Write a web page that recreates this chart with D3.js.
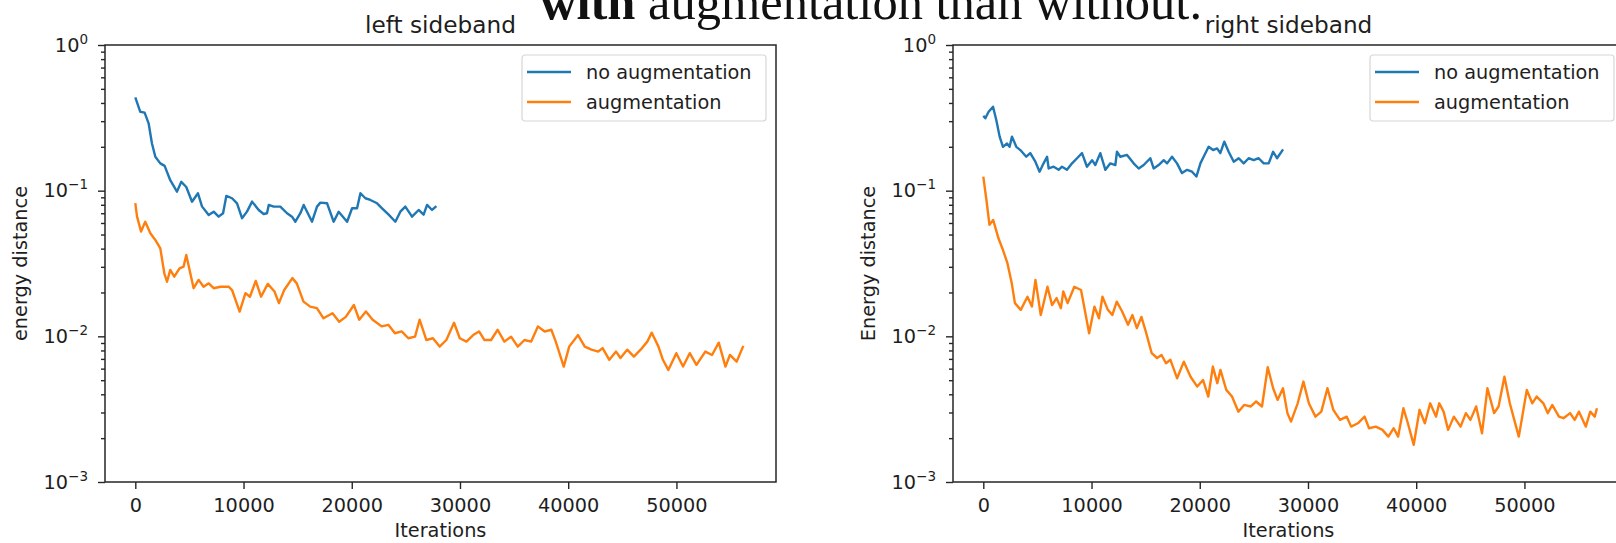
<!DOCTYPE html>
<html>
<head>
<meta charset="utf-8">
<script src="https://cdn.jsdelivr.net/npm/d3@7"></script>
<style>
  body { margin: 0; background: #fff; }
  svg text { font-family: "DejaVu Sans", sans-serif; fill: #1e1e1e; }
</style>
</head>
<body>
<svg id="chart" width="1616" height="543"></svg>
<script>
// values: [iteration, energy distance]
var leftNoAug = [[0,.437],[460,.348],[860,.343],[1230,.290],[1540,.211],[1850,.171],[2310,.154],[2710,.148],
  [3230,.118],[3850,.0985],[4250,.115],[4710,.106],[5240,.084],[5790,.096],[6160,.078],[6780,.068],[7240,.0717],
  [7700,.0663],[8110,.070],[8410,.092],[8940,.0887],[9400,.0819],[9860,.0647],[10320,.0718],[10790,.0841],
  [11400,.0737],[11860,.0692],[12170,.070],[12330,.0798],[12790,.0777],[13400,.0777],[14020,.070],[14480,.0663],
  [14790,.0612],[15250,.070],[15560,.0798],[15870,.0717],[16330,.0612],[16790,.0777],[17100,.0828],[17720,.0819],
  [18330,.0612],[18790,.0717],[19570,.0612],[20030,.0757],[20490,.0757],[20800,.096],[21260,.0887],[21720,.0863],
  [22340,.0819],[22800,.0757],[23410,.0684],[24030,.0612],[24490,.0717],[24950,.0777],[25570,.0663],[26180,.0737],
  [26640,.0684],[26960,.0798],[27420,.0737],[27820,.0784]];

var leftAug = [[0,.082],[160,.0663],[530,.0524],[920,.0612],[1390,.051],[1850,.0459],[2310,.0402],[2680,.0271],
  [2930,.0237],[3230,.0286],[3600,.0257],[4090,.0293],[4460,.0301],[4710,.0362],[5080,.0271],[5390,.0214],
  [5850,.0244],[6310,.0219],[6780,.0231],[7240,.0214],[7860,.0219],[8620,.0219],[8940,.0208],[9640,.0148],
  [10180,.0198],[10590,.0187],[11130,.024],[11620,.0187],[12240,.0229],[12860,.0203],[13270,.0169],[13760,.0208],
  [14510,.0251],[14920,.0231],[15540,.0173],[16160,.016],[16780,.0156],[17390,.0133],[18220,.0144],[18840,.0126],
  [19450,.0136],[20200,.0164],[20690,.013],[21310,.0148],[21930,.013],[22760,.0117],[23380,.012],[23990,.0105],
  [24610,.0108],[25230,.0097],[25850,.00995],[26270,.013],[26890,.00944],[27500,.0097],[28120,.0085],[28740,.00944],
  [29450,.0124],[29980,.0097],[30600,.0092],[31220,.0102],[31760,.0108],[32250,.00944],[32870,.00944],[33480,.0111],
  [34100,.0092],[34720,.00995],[35340,.0085],[35960,.00944],[36580,.0092],[37200,.0117],[37820,.0108],[38440,.0111],
  [38850,.0092],[39590,.0062],[40090,.0085],[40910,.0102],[41530,.0085],[42150,.0081],[42770,.00786],[43180,.0083],
  [43800,.0069],[44420,.00786],[44830,.0071],[45450,.0081],[46070,.00726],[46690,.0081],[47310,.0092],[47720,.0106],
  [48340,.0085],[48750,.0069],[49250,.00588],[49990,.00766],[50610,.0062],[51230,.00766],[51850,.00637],[52670,.00786],
  [53290,.00745],[53910,.00905],[54530,.0062],[54940,.00745],[55560,.0067],[56180,.0086]];

var rightNoAug = [[0,.326],[190,.314],[490,.348],[900,.377],[1200,.306],[1510,.235],[1820,.200],[2190,.211],
  [2430,.200],[2650,.235],[3050,.200],[3420,.190],[3970,.171],[4340,.181],[4810,.158],[5200,.135],[5570,.154],
  [5890,.171],[6040,.142],[6500,.146],[6960,.139],[7270,.146],[7730,.139],[8200,.154],[8660,.167],[9120,.181],
  [9580,.146],[10050,.162],[10350,.150],[10810,.181],[11280,.139],[11740,.154],[12200,.150],[12350,.185],[12660,.171],
  [13280,.176],[13890,.154],[14360,.142],[14820,.150],[15430,.167],[15740,.142],[16200,.150],[16670,.162],[16980,.154],
  [17440,.171],[17900,.154],[18360,.132],[18830,.139],[19290,.135],[19690,.125],[20060,.154],[20360,.171],[20820,.200],
  [21230,.190],[21600,.195],[21900,.181],[22270,.217],[22670,.185],[23140,.158],[23600,.167],[24060,.154],[24520,.167],
  [24980,.162],[25440,.167],[25910,.154],[26370,.154],[26780,.185],[27140,.167],[27700,.192]];

var rightAug = [[0,.125],[290,.0863],[570,.0582],[910,.063],[1400,.0471],[1810,.0392],[2230,.0318],[2630,.0231],
  [2920,.0169],[3460,.0152],[4080,.0187],[4490,.016],[4820,.0244],[5310,.014],[5930,.0219],[6350,.0164],[6770,.0183],
  [7170,.0156],[7390,.0203],[7790,.0169],[8410,.0219],[9030,.0208],[9780,.0105],[10270,.016],[10690,.0133],[11010,.0187],
  [11510,.0152],[11920,.014],[12330,.0173],[12830,.0148],[13370,.012],[13780,.014],[14190,.0114],[14610,.0136],
  [15010,.0108],[15560,.00766],[16050,.0071],[16470,.00745],[16880,.00653],[17290,.0069],[17910,.00515],[18530,.0067],
  [19150,.00528],[19770,.00452],[20300,.00502],[20790,.00386],[21210,.0062],[21620,.00477],[21910,.00588],[22450,.00429],
  [22980,.00386],[23570,.00304],[24100,.00338],[24720,.0033],[25210,.00357],[25750,.0033],[26280,.00614],[26780,.0044],
  [27190,.00366],[27690,.0044],[28100,.00297],[28430,.0026],[29050,.00347],[29580,.00489],[30080,.00347],[30690,.00281],
  [31230,.00304],[31800,.0044],[32340,.00313],[32960,.00267],[33580,.00281],[33990,.0024],[34610,.00253],[35230,.00281],
  [35640,.00234],[36270,.0024],[36880,.00228],[37430,.00205],[37920,.00234],[38330,.00205],[38820,.00321],[39230,.00253],
  [39770,.0018],[40310,.00313],[40800,.00253],[41290,.00347],[41830,.00281],[42130,.00347],[42530,.00304],[42950,.00228],
  [43480,.00281],[44100,.0024],[44590,.00297],[45010,.00267],[45540,.0033],[46080,.00216],[46580,.0044],[47200,.00297],
  [47610,.0033],[48150,.00528],[48650,.00347],[49060,.00267],[49480,.00205],[50220,.00429],[50720,.00347],[51130,.00386],
  [51750,.00347],[52160,.00297],[52570,.00338],[53190,.00281],[53610,.00274],[54220,.00297],[54640,.00267],[55040,.00304],
  [55670,.0024],[56080,.00304],[56500,.00281],[56700,.00321]];

var seriesNames = ["no augmentation", "augmentation"];
var seriesColors = ["#1f77b4", "#ff7f0e"];
var xTicks = [0, 10000, 20000, 30000, 40000, 50000];
var yTicks = [1, 0.1, 0.01, 0.001];
var yTickExp = ["0", "\u22121", "\u22122", "\u22123"];

var svg = d3.select("#chart");
var plotW = 671, plotTop = 45, plotBottom = 482;
var xDomain = [-2800, 59200];
var fs = 19.3;

// log minor ticks 2..9 in each decade
var yMinor = [];
[0.001, 0.01, 0.1].forEach(function (d) {
  for (var k = 2; k < 10; k++) yMinor.push(d * k);
});

function panel(left, title, ylabel, noAug, aug) {
  var g = svg.append("g");
  var x = d3.scaleLinear().domain(xDomain).range([left, left + plotW]);
  var y = d3.scaleLog().domain([0.001, 1]).range([plotBottom, plotTop]);

  var line = d3.line().x(function (d) { return x(d[0]); }).y(function (d) { return y(d[1]); });
  [noAug, aug].forEach(function (s, i) {
    g.append("path")
      .datum(s)
      .attr("d", line)
      .attr("fill", "none")
      .attr("stroke", seriesColors[i])
      .attr("stroke-width", 2.4)
      .attr("stroke-linejoin", "round");
  });

  // x axis
  var xa = g.append("g")
    .attr("transform", "translate(0," + plotBottom + ")")
    .call(d3.axisBottom(x).tickValues(xTicks).tickSize(7).tickPadding(9).tickSizeOuter(0).tickFormat(d3.format("d")));
  // y axis major
  var ya = g.append("g")
    .attr("transform", "translate(" + left + ",0)")
    .call(d3.axisLeft(y).tickValues(yTicks).tickSize(7).tickPadding(10).tickSizeOuter(0));
  ya.selectAll(".tick text").each(function (d, i) {
    var t = d3.select(this).text("");
    t.append("tspan").text("10");
    t.append("tspan").attr("dy", -8).attr("font-size", fs * 0.7).text(yTickExp[i]);
  });
  // y axis minor
  var ym = g.append("g")
    .attr("transform", "translate(" + left + ",0)")
    .call(d3.axisLeft(y).tickValues(yMinor).tickSize(4).tickSizeOuter(0).tickFormat(""));
  [xa, ya, ym].forEach(function (a) {
    a.select(".domain").remove();
    a.selectAll(".tick line").attr("stroke", "#262626").attr("stroke-width", 1.4);
    a.selectAll(".tick text").attr("font-size", fs).attr("font-family", "DejaVu Sans").attr("fill", "#1e1e1e");
  });

  // frame
  g.append("rect")
    .attr("x", left).attr("y", plotTop)
    .attr("width", plotW).attr("height", plotBottom - plotTop)
    .attr("fill", "none").attr("stroke", "#262626").attr("stroke-width", 1.5);

  g.append("text")
    .attr("x", left + plotW / 2).attr("y", 33)
    .attr("text-anchor", "middle").attr("font-size", 23.2)
    .text(title);
  g.append("text")
    .attr("x", left + plotW / 2).attr("y", 537)
    .attr("text-anchor", "middle").attr("font-size", fs)
    .text("Iterations");
  g.append("text")
    .attr("transform", "translate(" + (left - 78) + "," + ((plotTop + plotBottom) / 2) + ") rotate(-90)")
    .attr("text-anchor", "middle").attr("font-size", fs)
    .text(ylabel);

  // legend
  var lx = left + plotW - 10 - 244, ly = 55;
  var lg = g.append("g").attr("transform", "translate(" + lx + "," + ly + ")");
  lg.append("rect")
    .attr("width", 244).attr("height", 66).attr("rx", 3)
    .attr("fill", "#fff").attr("fill-opacity", 0.8)
    .attr("stroke", "#d6d6d6").attr("stroke-width", 1.2);
  seriesNames.forEach(function (n, i) {
    var yy = 17 + i * 30;
    lg.append("line")
      .attr("x1", 5).attr("x2", 49).attr("y1", yy).attr("y2", yy)
      .attr("stroke", seriesColors[i]).attr("stroke-width", 2.4);
    lg.append("text")
      .attr("x", 64).attr("y", yy).attr("dy", "0.35em")
      .attr("font-size", fs)
      .text(n);
  });
}

panel(105, "left sideband", "energy distance", leftNoAug, leftAug);
panel(953, "right sideband", "Energy distance", rightNoAug, rightAug);

// caption text from the surrounding document, cut at the top as in the source
var cap = svg.append("text")
  .attr("x", 540).attr("y", 19)
  .attr("font-size", 50.5)
  .style("font-family", "'Liberation Serif', serif")
  .style("fill", "#111");
cap.append("tspan").attr("font-weight", "bold").text("with");
cap.append("tspan").text(" augmentation than without.");
</script>
</body>
</html>
